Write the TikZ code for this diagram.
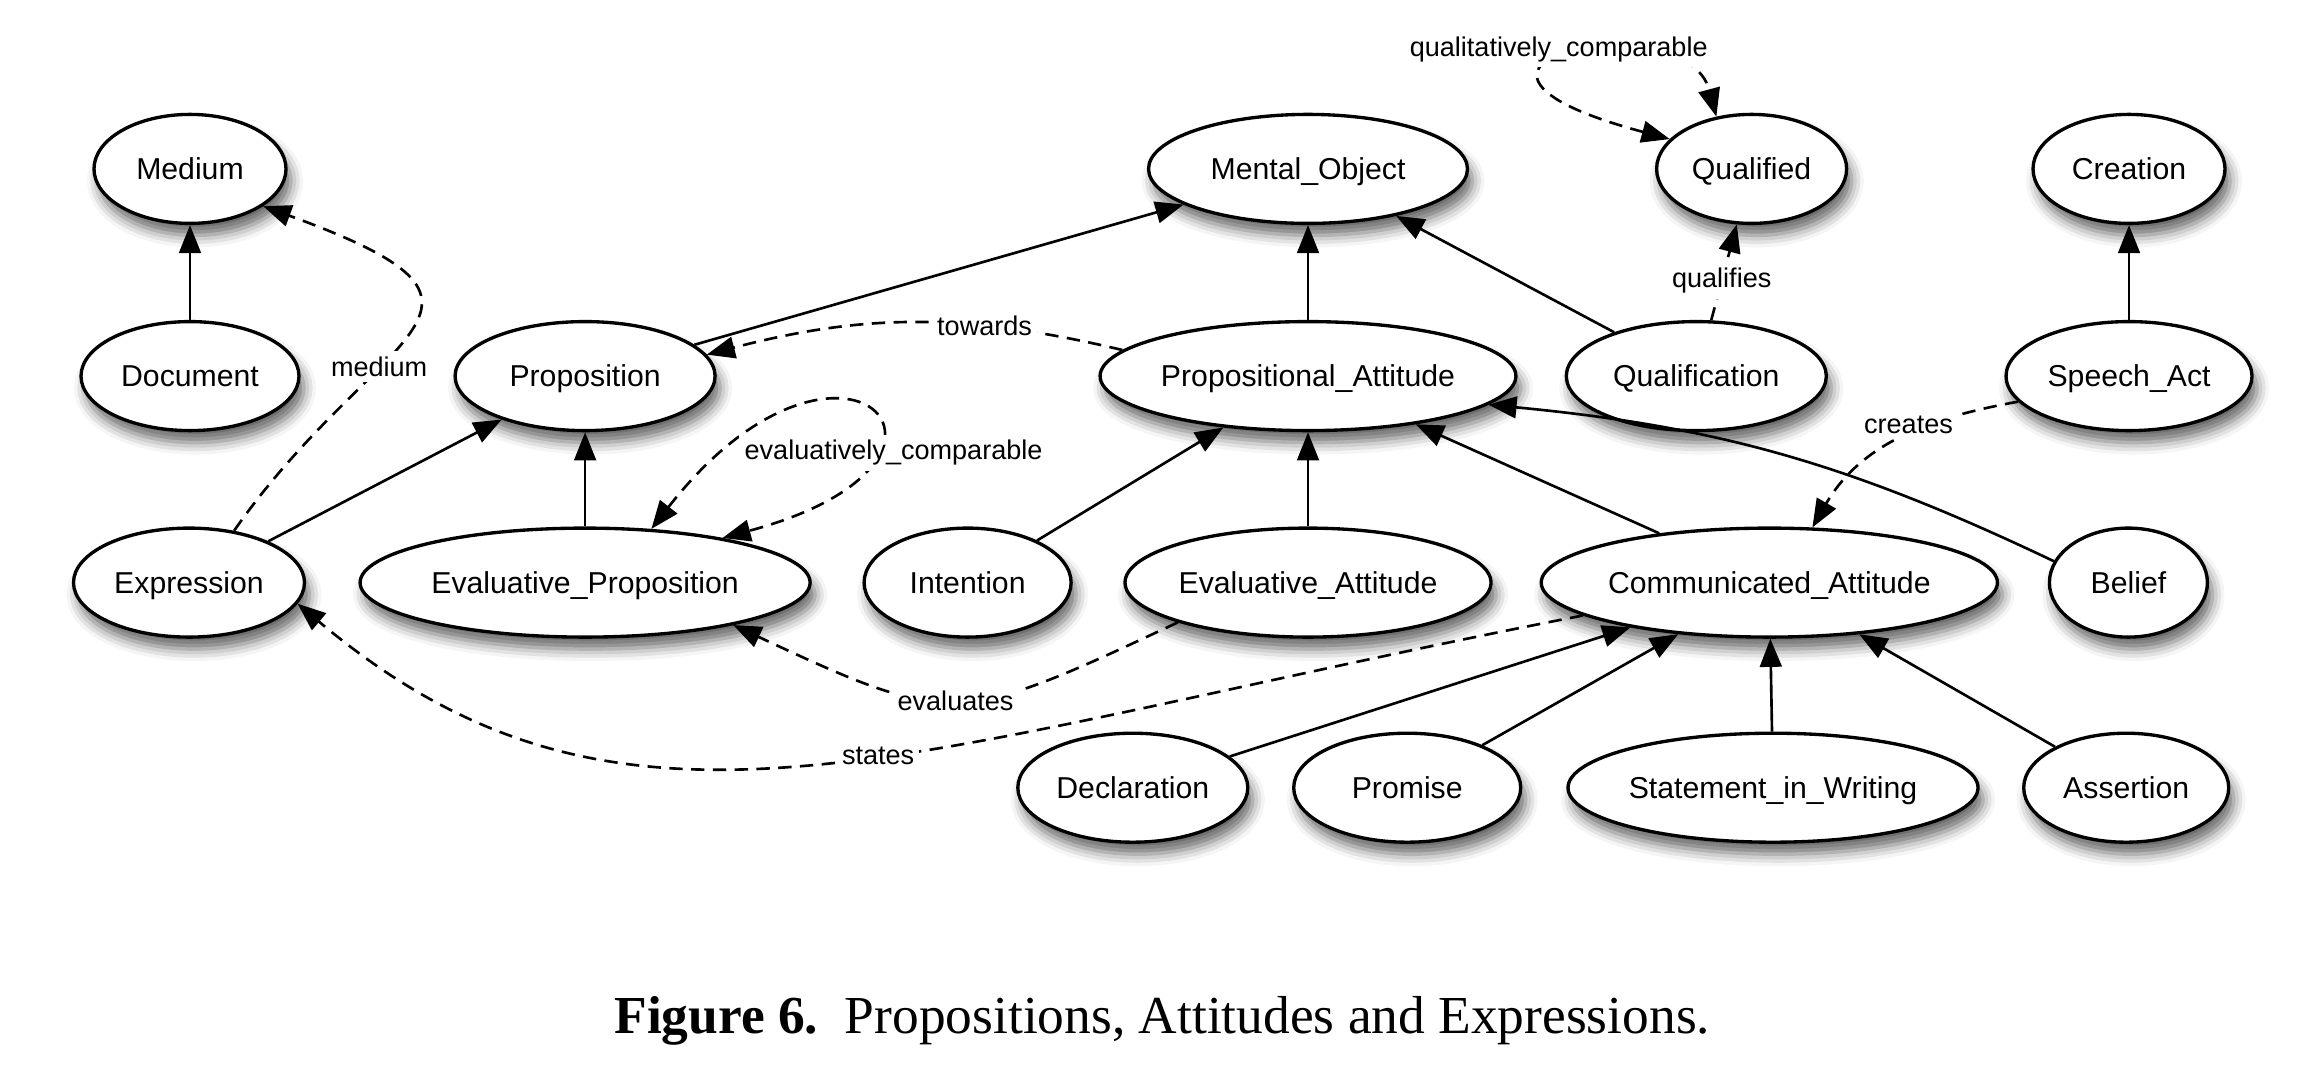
\documentclass[tikz,border=0pt]{standalone}
\usepackage{fontspec}
\setmainfont{Liberation Serif}
\setsansfont{Liberation Sans}
\usetikzlibrary{shapes.geometric, arrows.meta, shadows.blur}

\begin{document}
\begin{tikzpicture}[
		>={Triangle[length=8pt, width=6.2pt]},
		concept/.style={draw, ellipse, line width=0.95pt, fill=white, inner sep=0pt, minimum height=1.09cm, text height=6.2pt, text depth=0pt, font=\sffamily\fontsize{8.6}{10}\selectfont, blur shadow={shadow xshift=0.05cm, shadow yshift=-0.12cm, shadow blur radius=0.12cm, shadow opacity=60}},
		isa/.style={line width=0.75pt, ->},
		rel/.style={isa, dash pattern=on 3.8pt off 2.4pt},
		symrel/.style={rel, <->},
		lbl/.style={fill=white, inner sep=1.5pt, font=\sffamily\fontsize{7.7}{9}\selectfont}
	]
		\useasboundingbox (0, 0) rectangle (23.13, -10.8);
		\node[concept, minimum width=1.92cm] (Medium) at (1.9, -1.689) {Medium};
		\node[concept, minimum width=2.18cm] (Document) at (1.9, -3.761) {Document};
		\node[concept, minimum width=2.31cm] (Expression) at (1.89, -5.826) {Expression};
		\node[concept, minimum width=2.6cm] (Proposition) at (5.851, -3.761) {Proposition};
		\node[concept, minimum width=4.5cm] (Evaluative_Proposition) at (5.851, -5.826) {Evaluative\_Proposition};
		\node[concept, minimum width=2.07cm] (Intention) at (9.676, -5.826) {Intention};
		\node[concept, minimum width=3.19cm] (Mental_Object) at (13.08, -1.689) {Mental\_Object};
		\node[concept, minimum width=4.15cm] (Propositional_Attitude) at (13.08, -3.761) {Propositional\_Attitude};
		\node[concept, minimum width=3.66cm] (Evaluative_Attitude) at (13.08, -5.826) {Evaluative\_Attitude};
		\node[concept, minimum width=1.9cm] (Qualified) at (17.516, -1.689) {Qualified};
		\node[concept, minimum width=2.6cm] (Qualification) at (16.963, -3.761) {Qualification};
		\node[concept, minimum width=4.5cm] (Communicated_Attitude) at (17.693, -5.826) {Communicated\_Attitude};
		\node[concept, minimum width=1.92cm] (Creation) at (21.29, -1.689) {Creation};
		\node[concept, minimum width=2.46cm] (Speech_Act) at (21.29, -3.761) {Speech\_Act};
		\node[concept, minimum width=1.58cm] (Belief) at (21.284, -5.826) {Belief};
		\node[concept, minimum width=2.3cm] (Declaration) at (11.328, -7.877) {Declaration};
		\node[concept, minimum width=2.27cm] (Promise) at (14.072, -7.877) {Promise};
		\node[concept, minimum width=4.1cm] (Statement_in_Writing) at (17.73, -7.877) {Statement\_in\_Writing};
		\node[concept, minimum width=2.05cm] (Assertion) at (21.262, -7.877) {Assertion};
		\node[font=\fontsize{15.2}{18}\selectfont] (caption) at (11.623, -10.207) {\textbf{Figure 6.}\enskip Propositions, Attitudes and Expressions.};
		\draw[isa] (Document) edge (Medium);
		\draw[isa] (Expression) edge (Proposition);
		\draw[isa] (Evaluative_Proposition) edge (Proposition);
		\draw[isa] (Proposition) edge (Mental_Object);
		\draw[isa] (Propositional_Attitude) edge (Mental_Object);
		\draw[isa] (Qualification) edge (Mental_Object);
		\draw[isa] (Speech_Act) edge (Creation);
		\draw[isa] (Intention) edge (Propositional_Attitude);
		\draw[isa] (Evaluative_Attitude) edge (Propositional_Attitude);
		\draw[isa] (Communicated_Attitude) edge (Propositional_Attitude);
		\draw[isa] (Belief.164) to[bend right=10] (Propositional_Attitude.-9);
		\draw[isa] (Declaration) edge (Communicated_Attitude);
		\draw[isa] (Promise) edge (Communicated_Attitude);
		\draw[isa] (Statement_in_Writing) edge (Communicated_Attitude);
		\draw[isa] (Assertion) edge (Communicated_Attitude);
		\draw[rel] (Expression.49) .. controls +(55:2.5) and +(-20:3) .. (Medium.-27) node[lbl, pos=0.37] {medium};
		\draw[rel] (Propositional_Attitude.172) to[bend right=14] node[lbl, pos=0.32] {towards} (Proposition.10);
		\draw[symrel] (Evaluative_Proposition.39) .. controls +(52:3.1) and +(15:3) .. (Evaluative_Proposition.18) node[lbl, pos=0.69, xshift=0.21cm] {evaluatively\_comparable};
		\draw[symrel] (Qualified.160) .. controls +(165:3) and +(105:1.2) .. (Qualified.124) node[lbl, pos=0.5, xshift=-0.14cm, yshift=0.06cm] {qualitatively\_comparable};
		\draw[rel] (Qualification) -- node[lbl, pos=0.41] {qualifies} (Qualified);
		\draw[rel] (Speech_Act.193) to[out=190, in=60] node[lbl, pos=0.45, yshift=0.1cm] {creates} (Communicated_Attitude.52);
		\draw[rel] (Evaluative_Attitude.197) .. controls +(205:2.43) and +(-25:2.43) .. (Evaluative_Proposition.-16) node[lbl, pos=0.5] {evaluates};
		\draw[rel] (Communicated_Attitude.190) .. controls +(191:7) and +(-40:4.3) .. (Expression.-11) node[lbl, pos=0.44] {states};
	\end{tikzpicture}
\end{document}
